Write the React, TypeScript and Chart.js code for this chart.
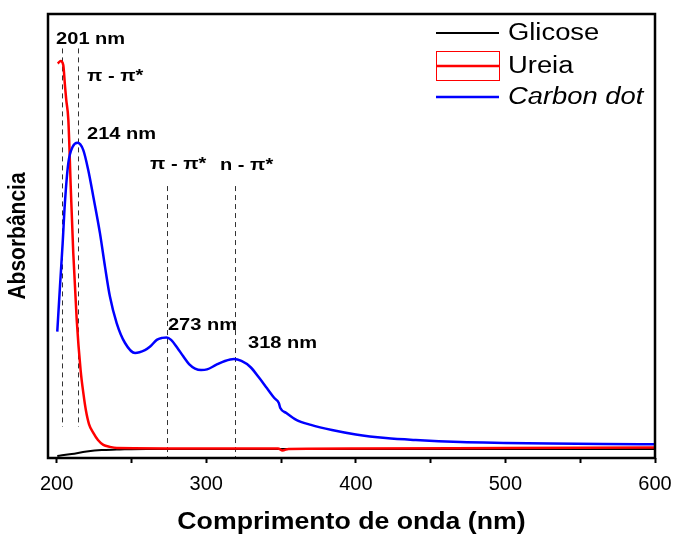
import React, { useEffect, useRef } from 'react';
import { Chart, registerables } from 'chart.js';

Chart.register(...registerables);

// ---------- data (wavelength in nm, absorbance in a.u.) ----------
const glicoseNm = [200.4, 210, 220, 230, 240, 260, 300, 400, 500, 600];
const glicoseAbs = [0.009, 0.018, 0.029, 0.036, 0.038, 0.041, 0.041, 0.041, 0.041, 0.041];

const ureiaNm = [200.7, 202.7, 204.4, 205.6, 206.4, 207.8, 209.4, 211.1, 213.4, 216.0, 218.0, 219.5, 221.6, 224.5, 227.6, 231.2, 235.6, 240.3, 300, 348, 351, 355, 400, 500, 600];
const ureiaAbs = [1.777, 1.788, 1.77, 1.673, 1.613, 1.523, 1.222, 0.923, 0.622, 0.396, 0.284, 0.216, 0.153, 0.113, 0.081, 0.059, 0.05, 0.045, 0.043, 0.043, 0.034, 0.041, 0.043, 0.045, 0.047];

const carbonNm = [200.4, 202.2, 204.0, 205.5, 207.8, 210.7, 214.0, 217.8, 221.1, 224.5, 228.9, 232.3, 235.6, 240.1, 245.7, 252.4, 259.0, 262.5, 266.9, 270.5, 273.5, 276.5, 280.5, 284.5, 288.5, 292.5, 296.5, 300.5, 306.5, 312.5, 318.5, 323.5, 329.5, 335.5, 340.5, 345.5, 348.5, 349.5, 353.5, 360.5, 370, 384, 400, 420, 440, 470, 500, 530, 565, 600];
const carbonAbs = [0.569, 0.772, 0.968, 1.149, 1.329, 1.402, 1.42, 1.387, 1.297, 1.177, 1.014, 0.862, 0.727, 0.608, 0.518, 0.473, 0.486, 0.502, 0.532, 0.541, 0.543, 0.532, 0.498, 0.459, 0.423, 0.403, 0.396, 0.399, 0.419, 0.437, 0.446, 0.437, 0.41, 0.36, 0.315, 0.27, 0.248, 0.225, 0.203, 0.171, 0.149, 0.126, 0.106, 0.09, 0.081, 0.072, 0.068, 0.065, 0.063, 0.062];

const seriesLabels = ['Glicose', 'Ureia', 'Carbon dot'];
const seriesColors = ['#000000', '#ff0000', '#0000ff'];

const xTickValues = [200, 250, 300, 350, 400, 450, 500, 550, 600];
const xTickLabels = ['200', '', '300', '', '400', '', '500', '', '600'];

const xTitle = 'Comprimento de onda (nm)';
const yTitle = 'Absorbância';

// peak marker lines: nm, top / bottom absorbance of the dashed line
const peakLineNm = [203.3, 214, 273.5, 319];
const peakLineTop = [1.845, 1.845, 1.225, 1.225];
const peakLineBottom = [0.14, 0.14, 0, 0];

// annotation texts anchored at (nm, absorbance) = left / vertical middle
const noteTexts = ['201 nm', 'π - π*', '214 nm', 'π - π*', 'n - π*', '273 nm', '318 nm'];
const noteNm = [199.6, 220.3, 220.3, 262.4, 309.2, 274.4, 327.9];
const noteAbs = [1.887, 1.721, 1.459, 1.324, 1.32, 0.599, 0.518];

const FONT = "Arial, 'Liberation Sans', sans-serif";

function drawStretched(ctx: CanvasRenderingContext2D, text: string, x: number, y: number, font: string, sx: number, align: 'left' | 'center') {
  ctx.save();
  ctx.font = font;
  ctx.textBaseline = 'middle';
  ctx.textAlign = 'left';
  ctx.fillStyle = '#000';
  const w = ctx.measureText(text).width * sx;
  const x0 = align === 'center' ? x - w / 2 : x;
  ctx.translate(x0, y);
  ctx.scale(sx, 1);
  ctx.fillText(text, 0, 0);
  ctx.restore();
}

const decorPlugin = {
  id: 'decor',
  beforeDatasetsDraw(chart: any) {
    const ctx = chart.ctx as CanvasRenderingContext2D;
    const xs = chart.scales.x;
    const ys = chart.scales.y;
    ctx.save();
    ctx.strokeStyle = '#333';
    ctx.lineWidth = 1;
    ctx.setLineDash([5, 4]);
    peakLineNm.forEach((nm, i) => {
      const px = Math.round(xs.getPixelForValue(nm)) + 0.5;
      ctx.beginPath();
      ctx.moveTo(px, ys.getPixelForValue(peakLineTop[i]));
      ctx.lineTo(px, ys.getPixelForValue(peakLineBottom[i]));
      ctx.stroke();
    });
    ctx.restore();
  },
  afterDraw(chart: any) {
    const ctx = chart.ctx as CanvasRenderingContext2D;
    const a = chart.chartArea;
    const xs = chart.scales.x;
    const ys = chart.scales.y;
    // frame
    ctx.save();
    ctx.strokeStyle = '#000';
    ctx.lineWidth = 2.5;
    ctx.strokeRect(a.left, a.top, a.right - a.left, a.bottom - a.top);
    ctx.restore();

    // annotations
    noteTexts.forEach((t, i) => {
      drawStretched(ctx, t, xs.getPixelForValue(noteNm[i]), ys.getPixelForValue(noteAbs[i]),
        `bold 17px ${FONT}`, 1.18, 'left');
    });

    // legend
    const lx0 = a.right - 219;
    const lx1 = a.right - 156;
    const tx = a.right - 147;
    const rows = [a.top + 19, a.top + 52, a.top + 83];
    chart.data.datasets.forEach((ds: any, i: number) => {
      const y = rows[i];
      ctx.save();
      if (i === 1) {
        ctx.strokeStyle = ds.borderColor;
        ctx.lineWidth = 1;
        ctx.strokeRect(lx0 + 0.5, y - 14.5, lx1 - lx0, 29);
      }
      ctx.strokeStyle = ds.borderColor;
      ctx.lineWidth = i === 0 ? 2 : 2.5;
      ctx.beginPath();
      ctx.moveTo(lx0, y);
      ctx.lineTo(lx1, y);
      ctx.stroke();
      ctx.restore();
      drawStretched(ctx, ds.label, tx, y + 1, `${i === 2 ? 'italic ' : ''}23px ${FONT}`, 1.19, 'left');
    });

    // axis titles
    drawStretched(ctx, xTitle, (a.left + a.right) / 2, 523, `bold 23px ${FONT}`, 1.16, 'center');
    ctx.save();
    ctx.translate(18.5, (a.top + a.bottom) / 2);
    ctx.rotate(-Math.PI / 2);
    ctx.scale(1, 1.15);
    ctx.font = `bold 21px ${FONT}`;
    ctx.fillStyle = '#000';
    ctx.textAlign = 'center';
    ctx.textBaseline = 'middle';
    ctx.fillText(yTitle, 0, 0);
    ctx.restore();
  },
};

export default function App() {
  const ref = useRef<HTMLCanvasElement | null>(null);
  useEffect(() => {
    if (!ref.current) return;
    const mk = (nm: number[], ab: number[]) => nm.map((x, i) => ({ x, y: ab[i] }));
    const chart = new Chart(ref.current, {
      type: 'line',
      data: {
        datasets: [
          { label: seriesLabels[0], data: mk(glicoseNm, glicoseAbs), borderColor: seriesColors[0], borderWidth: 2, pointRadius: 0, cubicInterpolationMode: 'monotone', order: 2 },
          { label: seriesLabels[1], data: mk(ureiaNm, ureiaAbs), borderColor: seriesColors[1], borderWidth: 2.5, pointRadius: 0, cubicInterpolationMode: 'monotone', order: 1 },
          { label: seriesLabels[2], data: mk(carbonNm, carbonAbs), borderColor: seriesColors[2], borderWidth: 2.5, pointRadius: 0, cubicInterpolationMode: 'monotone', order: 0 },
        ],
      },
      options: {
        responsive: false,
        animation: false,
        events: [],
        layout: { padding: { top: 14, right: 21, left: 0, bottom: 0 } },
        plugins: { legend: { display: false }, tooltip: { enabled: false } },
        scales: {
          x: {
            type: 'linear',
            min: 194.2,
            max: 600,
            afterBuildTicks: (s: any) => { s.ticks = xTickValues.map((v) => ({ value: v })); },
            afterFit: (s: any) => { s.height = 79; s.paddingLeft = 0; s.paddingRight = 0; },
            ticks: {
              autoSkip: false,
              maxRotation: 0,
              padding: 9,
              color: '#000',
              font: { family: FONT, size: 20 },
              callback: (_v: any, i: number) => xTickLabels[i] ?? '',
            },
            grid: { drawOnChartArea: false, drawTicks: true, tickLength: 5, tickWidth: 2, tickColor: '#000', color: '#000' },
            border: { display: false },
          },
          y: {
            min: 0,
            max: 2,
            ticks: { display: false },
            grid: { display: false },
            border: { display: false },
            afterFit: (s: any) => { s.width = 48; s.paddingTop = 0; s.paddingBottom = 0; },
          },
        },
      },
      plugins: [decorPlugin],
    } as any);
    return () => chart.destroy();
  }, []);
  return (
    <div style={{ position: 'absolute', left: 0, top: 0, width: 676, height: 537, background: '#fff' }}>
      <canvas ref={ref} width={676} height={537} style={{ display: 'block' }} />
    </div>
  );
}
